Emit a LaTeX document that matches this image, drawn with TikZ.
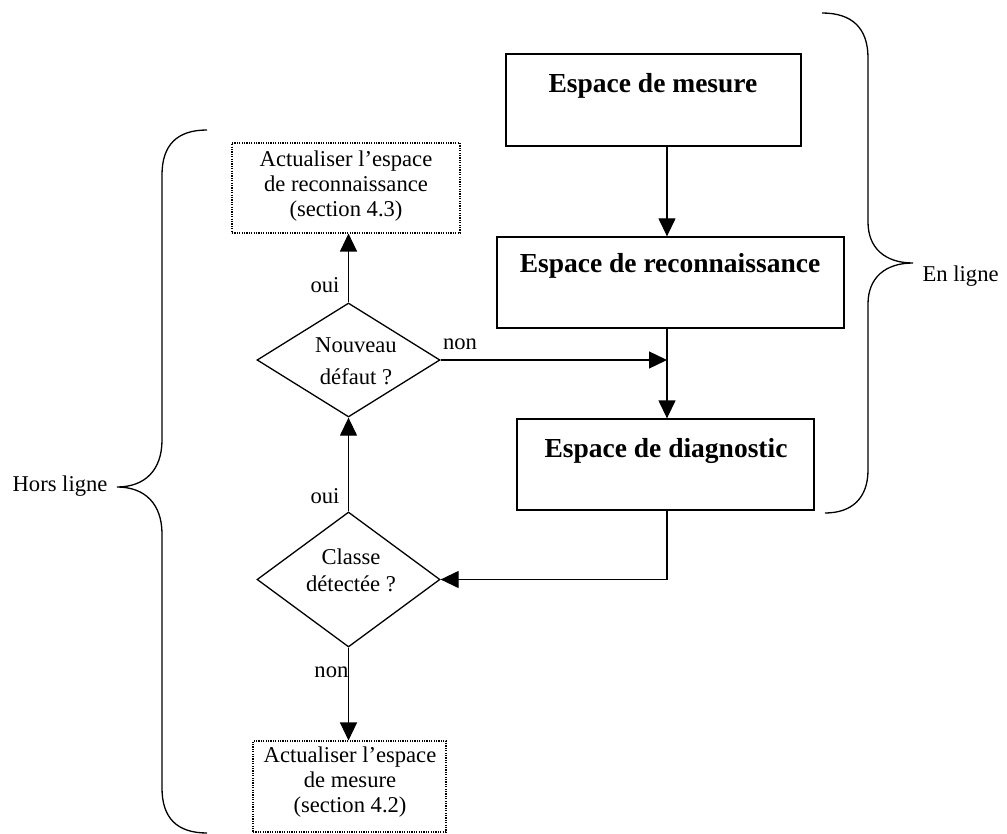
\documentclass[tikz,border=0pt]{standalone}
\usepackage{fontspec}
\setmainfont{Liberation Serif}
\usetikzlibrary{shapes.geometric,arrows.meta,calc}
\begin{document}
\begin{tikzpicture}[x=1pt,y=-1pt,
  every path/.style={line width=1.3pt},
  box/.style={draw,rectangle,inner sep=0pt},
  dotbox/.style={draw,rectangle,inner sep=0pt,line width=1.1pt,dash pattern=on 1.2pt off 1.2pt},
  dia/.style={draw,diamond,inner sep=0pt},
  arr/.style={-{Triangle[length=18pt,width=17pt]}},
  bigtxt/.style={font=\fontsize{27.5}{33}\selectfont\bfseries,inner sep=0pt,anchor=base},
  txt/.style={font=\fontsize{22.6}{25}\selectfont,inner sep=0pt,align=center},
  lbl/.style={font=\fontsize{22.6}{25}\selectfont,inner sep=0pt,anchor=base}]
\useasboundingbox (0,0) rectangle (1007,834);
% boxes
\node[box,minimum width=295pt,minimum height=92pt] (mes) at (653.5,100) {};
\node[box,minimum width=347pt,minimum height=91pt] (rec) at (670.5,282.5) {};
\node[box,minimum width=297pt,minimum height=91pt] (diag) at (665.5,464.5) {};
\node[bigtxt] (tmes) at (653,93) {Espace de mesure};
\node[bigtxt] (trec) at (670,273) {Espace de reconnaissance};
\node[bigtxt] (tdiag) at (666,457) {Espace de diagnostic};
% diamonds
\node[dia,minimum width=183pt,minimum height=114pt] (d1) at (348.5,360) {};
\node[dia,minimum width=183pt,minimum height=135pt] (d2) at (348.5,579.5) {};
\node[txt,font=\fontsize{22.6}{32}\selectfont] (td1) at (356,361.3) {Nouveau\\défaut ?};
\node[txt,font=\fontsize{22.6}{27}\selectfont] (td2) at (351,570.8) {Classe\\détectée ?};
% dotted boxes
\node[dotbox,minimum width=228pt,minimum height=90pt] (top) at (346,188) {};
\node[dotbox,minimum width=193pt,minimum height=91pt] (bot) at (349.5,786.5) {};
\node[txt] (ttop) at (346,186.3) {Actualiser l’espace\\de reconnaissance\\(section 4.3)};
\node[txt] (tbot) at (350,782.3) {Actualiser l’espace\\de mesure\\(section 4.2)};
% junction
\coordinate (j1) at (667,360);
% connectors
\draw[arr] (mes.south -| j1) -- (rec.north -| j1);
\draw (rec.south -| j1) -- (j1);
\draw[arr] (j1) -- (diag.north -| j1);
\draw[arr] (d1.east) -- (j1);
\draw[arr] (diag.south -| j1) |- (d2.east);
\draw[arr] (d2.north) -- (d1.south);
\draw[arr] (d1.north) -- (top.south -| d1.north);
\draw[arr] (d2.south) -- (bot.north -| d2.south);
% labels
\node[lbl] (oui1) at (325,293) {oui};
\node[lbl] (oui2) at (325,503) {oui};
\node[lbl] (non1) at (460,349) {non};
\node[lbl,anchor=base east] (non2) at (349,677) {non};
% braces
\draw (822,13) .. controls (852,13) and (868,28) .. (868,58)
  -- (868,222) .. controls (868,248) and (885,263) .. (913,263)
  .. controls (885,263) and (868,278) .. (868,304)
  -- (868,470) .. controls (868,498) and (852,513) .. (825,513);
\draw (207,130) .. controls (177,130) and (162,145) .. (162,175)
  -- (162,440) .. controls (162,470) and (145,487) .. (117,487)
  .. controls (145,487) and (162,504) .. (162,534)
  -- (162,788) .. controls (162,818) and (177,833) .. (207,833);
\node[lbl,anchor=base west] (enl) at (922,282) {En ligne};
\node[lbl,anchor=base west] (horsl) at (12,491) {Hors ligne};
\end{tikzpicture}
\end{document}
